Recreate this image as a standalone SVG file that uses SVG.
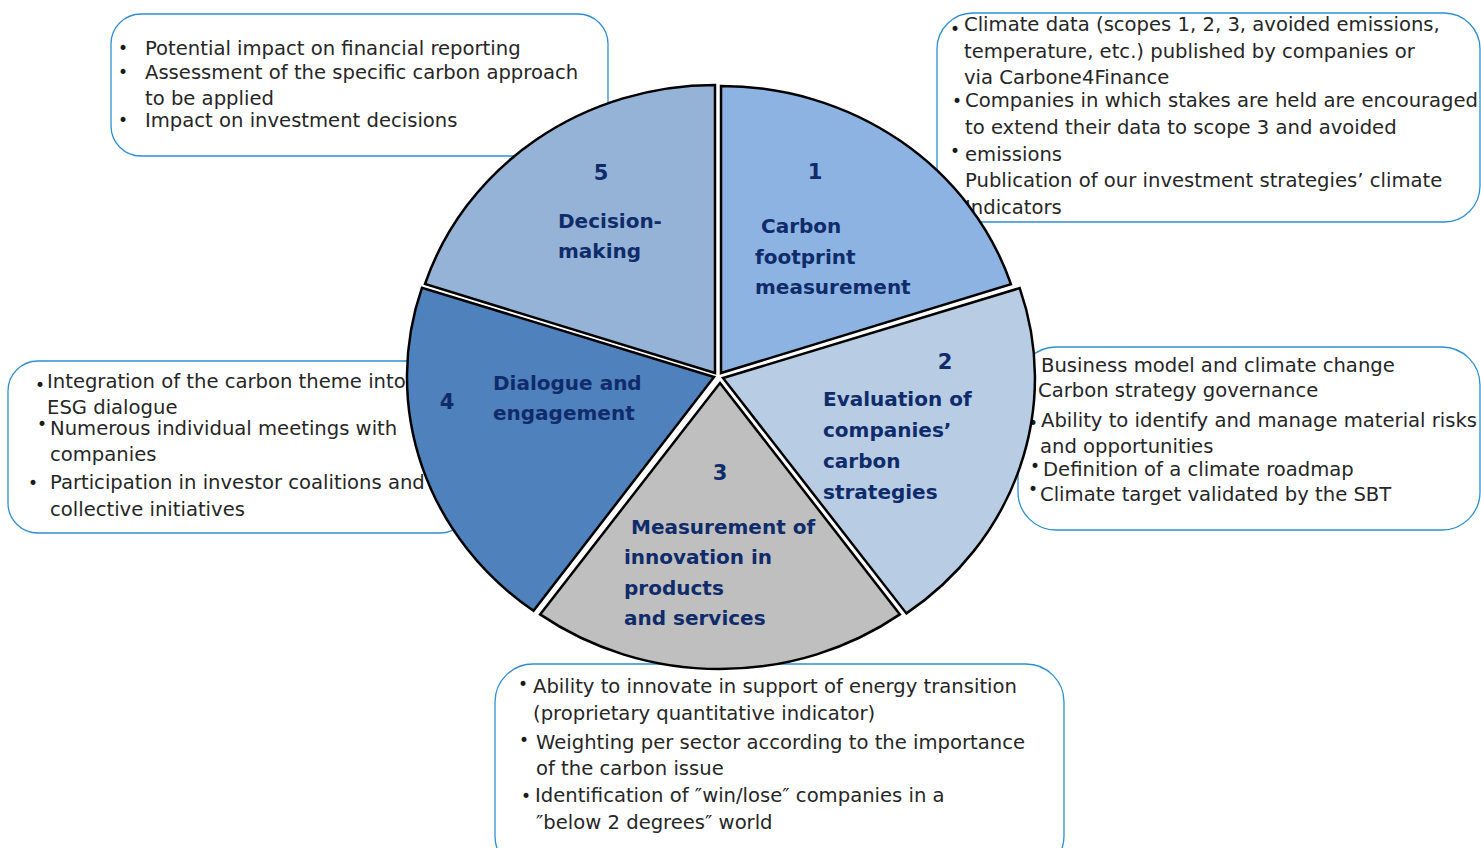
<svg xmlns="http://www.w3.org/2000/svg" width="1481" height="848" viewBox="0 0 1481 848">
  <style>
    .box { fill: #ffffff; stroke: #2E8FD0; stroke-width: 1.3; }
    .txt { font-family: "DejaVu Sans", "Liberation Sans", sans-serif; font-size: 19.6px; fill: #262626; }
    .bul { font-family: "DejaVu Sans", "Liberation Sans", sans-serif; font-size: 17px; fill: #1a1a1a; text-anchor: middle; }
    .slice { stroke: #000000; stroke-width: 2.5; stroke-linejoin: miter; }
    .lbl { font-family: "DejaVu Sans", "Liberation Sans", sans-serif; font-size: 20px; font-weight: bold; fill: #0F2B6A; }
    .num { text-anchor: middle; font-size: 21px; }
  </style>

  <!-- Callout boxes (drawn first, the pie overlaps them) -->
  <g id="box-decision">
    <rect class="box" x="111" y="14" width="497" height="142" rx="30" ry="30"/>
    <text class="bul" x="123" y="54">•</text>
    <text class="bul" x="123" y="78">•</text>
    <text class="bul" x="123" y="126">•</text>
    <text class="txt" x="145" y="55">Potential impact on financial reporting</text>
    <text class="txt" x="145" y="79">Assessment of the specific carbon approach</text>
    <text class="txt" x="145" y="105">to be applied</text>
    <text class="txt" x="145" y="127">Impact on investment decisions</text>
  </g>

  <g id="box-footprint">
    <rect class="box" x="937" y="13" width="543" height="209" rx="36" ry="36"/>
    <text class="bul" x="955" y="35">•</text>
    <text class="bul" x="957" y="107">•</text>
    <text class="bul" x="955" y="157">•</text>
    <text class="txt" x="964" y="31">Climate data (scopes 1, 2, 3, avoided emissions,</text>
    <text class="txt" x="964" y="58">temperature, etc.) published by companies or</text>
    <text class="txt" x="964" y="84">via Carbone4Finance</text>
    <text class="txt" x="965" y="107">Companies in which stakes are held are encouraged</text>
    <text class="txt" x="965" y="134">to extend their data to scope 3 and avoided</text>
    <text class="txt" x="965" y="161">emissions</text>
    <text class="txt" x="965" y="187">Publication of our investment strategies’ climate</text>
    <text class="txt" x="965" y="214">Indicators</text>
  </g>

  <g id="box-evaluation">
    <rect class="box" x="1018" y="347" width="462" height="183" rx="38" ry="38"/>
    <text class="bul" x="1032" y="372">•</text>
    <text class="bul" x="1032" y="397">•</text>
    <text class="bul" x="1033" y="429">•</text>
    <text class="bul" x="1035" y="472">•</text>
    <text class="bul" x="1033" y="495">•</text>
    <text class="txt" x="1041" y="372">Business model and climate change</text>
    <text class="txt" x="1038" y="397">Carbon strategy governance</text>
    <text class="txt" x="1041" y="427">Ability to identify and manage material risks</text>
    <text class="txt" x="1040" y="453">and opportunities</text>
    <text class="txt" x="1043" y="476">Definition of a climate roadmap</text>
    <text class="txt" x="1040" y="501">Climate target validated by the SBT</text>
  </g>

  <g id="box-dialogue">
    <rect class="box" x="8" y="361" width="462" height="172" rx="30" ry="30"/>
    <text class="bul" x="40" y="391">•</text>
    <text class="bul" x="42" y="430">•</text>
    <text class="bul" x="33" y="489">•</text>
    <text class="txt" x="47" y="388">Integration of the carbon theme into</text>
    <text class="txt" x="47" y="414">ESG dialogue</text>
    <text class="txt" x="50" y="435">Numerous individual meetings with</text>
    <text class="txt" x="50" y="461">companies</text>
    <text class="txt" x="50" y="489">Participation in investor coalitions and</text>
    <text class="txt" x="50" y="516">collective initiatives</text>
  </g>

  <g id="box-innovation">
    <rect class="box" x="495" y="664" width="569" height="210" rx="38" ry="38"/>
    <text class="bul" x="523" y="690">•</text>
    <text class="bul" x="524" y="746">•</text>
    <text class="bul" x="526" y="802">•</text>
    <text class="txt" x="533" y="693">Ability to innovate in support of energy transition</text>
    <text class="txt" x="533" y="720">(proprietary quantitative indicator)</text>
    <text class="txt" x="536" y="749">Weighting per sector according to the importance</text>
    <text class="txt" x="536" y="775">of the carbon issue</text>
    <text class="txt" x="535" y="802">Identification of ″win/lose″ companies in a</text>
    <text class="txt" x="536" y="829">″below 2 degrees″ world</text>
  </g>

  <!-- Exploded pie, five sectors -->
  <g id="slice-1">
    <path class="slice" fill="#8DB3E2" d="M721,373 L721,86 A305,287 0 0,1 1011,284.3 Z"/>
    <text class="lbl num" x="815" y="179">1</text>
    <text class="lbl" x="761" y="233">Carbon</text>
    <text class="lbl" x="755" y="264">footprint</text>
    <text class="lbl" x="755" y="294">measurement</text>
  </g>

  <g id="slice-2">
    <path class="slice" fill="#B8CCE4" d="M723,378 L1019.7,288.1 A312,291 0 0,1 906.4,613.4 Z"/>
    <text class="lbl num" x="945" y="369">2</text>
    <text class="lbl" x="823" y="406">Evaluation of</text>
    <text class="lbl" x="823" y="437">companies’</text>
    <text class="lbl" x="823" y="468">carbon</text>
    <text class="lbl" x="823" y="499">strategies</text>
  </g>

  <g id="slice-3">
    <path class="slice" fill="#BFBFBF" d="M720,383 L899.9,614.4 A306,286 0 0,1 540.1,614.4 Z"/>
    <text class="lbl num" x="720" y="480">3</text>
    <text class="lbl" x="631" y="534">Measurement of</text>
    <text class="lbl" x="624" y="564">innovation in</text>
    <text class="lbl" x="624" y="595">products</text>
    <text class="lbl" x="624" y="625">and services</text>
  </g>

  <g id="slice-4">
    <path class="slice" fill="#4F81BD" d="M714,377 L533.5,610.8 A307,289 0 0,1 422,287.7 Z"/>
    <text class="lbl num" x="447" y="409">4</text>
    <text class="lbl" x="493" y="390">Dialogue and</text>
    <text class="lbl" x="493" y="420">engagement</text>
  </g>

  <g id="slice-5">
    <path class="slice" fill="#95B3D7" d="M715,373 L425,284 A305,288 0 0,1 715,85 Z"/>
    <text class="lbl num" x="601" y="180">5</text>
    <text class="lbl" x="558" y="228">Decision-</text>
    <text class="lbl" x="558" y="258">making</text>
  </g>
</svg>
